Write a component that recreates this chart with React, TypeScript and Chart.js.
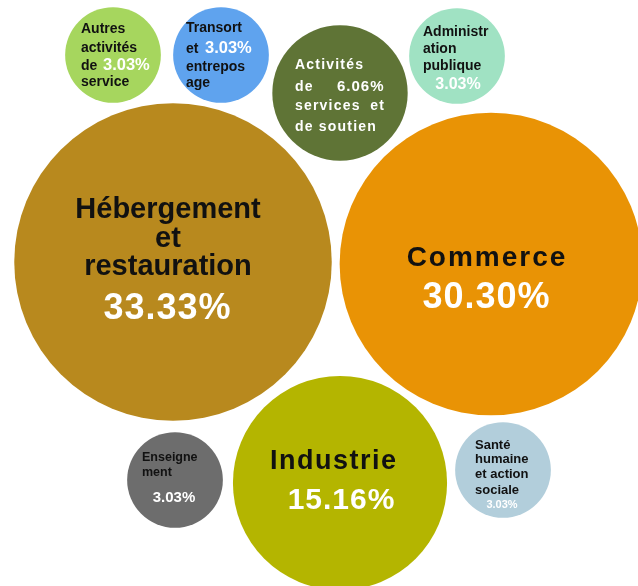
import React, { useEffect, useRef } from "react";
import { Chart, registerables } from "chart.js";

Chart.register(...registerables);

// Categories and values (share in %)
const categories = [
  "Autres activités de service",
  "Transort et entreposage",
  "Activités de services et de soutien",
  "Administration publique",
  "Hébergement et restauration",
  "Commerce",
  "Industrie",
  "Enseignement",
  "Santé humaine et action sociale",
];
const values = [3.03, 3.03, 6.06, 3.03, 33.33, 30.3, 15.16, 3.03, 3.03];

// Packed-bubble layout positions (chart units)
const bubbleX = [113, 221, 340, 457, 173, 491, 340, 175, 503];
const bubbleY = [55, 55, 93, 56, 262, 264, 483, 480, 470];

const colors = [
  "#a6d65e",
  "#5fa3ee",
  "#5f7436",
  "#a0e2c3",
  "#b8891e",
  "#e99305",
  "#b4b500",
  "#6d6d6d",
  "#b2cedb",
];

const W = 638;
const H = 586;
const K = 27.5; // radius scale (area proportional to value)

type Seg = {
  t: string;
  dx: number;
  dy: number;
  size: number;
  color: string;
  align?: CanvasTextAlign;
  ls?: number;
};

const B = "#111111";
const Wt = "#ffffff";
const pct = (i: number) => values[i].toFixed(2) + "%";

const labels: Seg[][] = [
  [
    { t: "Autres", dx: -32, dy: -26, size: 14, color: B },
    { t: "activités", dx: -32, dy: -7, size: 14, color: B },
    { t: "de", dx: -32, dy: 11, size: 14, color: B },
    { t: pct(0), dx: -10, dy: 10, size: 16.5, color: Wt },
    { t: "service", dx: -32, dy: 27, size: 14, color: B },
  ],
  [
    { t: "Transort", dx: -35, dy: -27, size: 14, color: B },
    { t: "et", dx: -35, dy: -6, size: 14, color: B },
    { t: pct(1), dx: -16, dy: -7, size: 16.5, color: Wt },
    { t: "entrepos", dx: -35, dy: 12, size: 14, color: B },
    { t: "age", dx: -35, dy: 28, size: 14, color: B },
  ],
  [
    { t: "Activités", dx: -45, dy: -28, size: 14, color: Wt, ls: 1.2 },
    { t: "de", dx: -45, dy: -6, size: 14, color: Wt, ls: 1.2 },
    { t: pct(2), dx: -3, dy: -6, size: 15, color: Wt, ls: 1 },
    { t: "services", dx: -45, dy: 13, size: 14, color: Wt, ls: 1.2 },
    { t: "et", dx: 45, dy: 13, size: 14, color: Wt, align: "right", ls: 1.2 },
    { t: "de soutien", dx: -45, dy: 34, size: 14, color: Wt, ls: 1.2 },
  ],
  [
    { t: "Administr", dx: -34, dy: -24, size: 14, color: B },
    { t: "ation", dx: -34, dy: -7, size: 14, color: B },
    { t: "publique", dx: -34, dy: 10, size: 14, color: B },
    { t: pct(3), dx: 1, dy: 29, size: 16, color: Wt, align: "center" },
  ],
  [
    { t: "Hébergement", dx: -5, dy: -52, size: 29, color: B, align: "center" },
    { t: "et", dx: -5, dy: -23, size: 29, color: B, align: "center" },
    { t: "restauration", dx: -5, dy: 5, size: 29, color: B, align: "center" },
    { t: pct(4), dx: -6, dy: 47, size: 36, color: Wt, align: "center", ls: 1 },
  ],
  [
    { t: "Commerce", dx: -5, dy: -6, size: 28, color: B, align: "center", ls: 2 },
    { t: pct(5), dx: -5, dy: 34, size: 36, color: Wt, align: "center", ls: 1 },
  ],
  [
    { t: "Industrie", dx: -7, dy: -21, size: 27, color: B, align: "center", ls: 1.5 },
    { t: pct(6), dx: 1, dy: 18, size: 30, color: Wt, align: "center", ls: 1 },
  ],
  [
    { t: "Enseigne", dx: -33, dy: -22, size: 12.5, color: B },
    { t: "ment", dx: -33, dy: -7, size: 12.5, color: B },
    { t: pct(7), dx: -1, dy: 18, size: 15, color: Wt, align: "center" },
  ],
  [
    { t: "Santé", dx: -28, dy: -25, size: 13, color: B },
    { t: "humaine", dx: -28, dy: -11, size: 13, color: B },
    { t: "et action", dx: -28, dy: 4, size: 13, color: B },
    { t: "sociale", dx: -28, dy: 20, size: 13, color: B },
    { t: pct(8), dx: -1, dy: 35, size: 11, color: Wt, align: "center" },
  ],
];

const labelPlugin = {
  id: "bubbleLabels",
  afterDatasetsDraw(chart: any) {
    const ctx = chart.ctx as CanvasRenderingContext2D;
    const meta = chart.getDatasetMeta(0);
    ctx.save();
    meta.data.forEach((el: any, i: number) => {
      const segs = labels[i] || [];
      segs.forEach((s) => {
        ctx.font = `bold ${s.size}px "Liberation Sans", Arial, sans-serif`;
        (ctx as any).letterSpacing = `${s.ls || 0}px`;
        ctx.fillStyle = s.color;
        ctx.textBaseline = "middle";
        ctx.textAlign = s.align || "left";
        let x = el.x + s.dx;
        if ((s.align === "center") && s.ls) x += s.ls / 2;
        ctx.fillText(s.t, x, el.y + s.dy);
      });
    });
    (ctx as any).letterSpacing = "0px";
    ctx.restore();
  },
};

const bgPlugin = {
  id: "whiteBg",
  beforeDraw(chart: any) {
    const ctx = chart.ctx;
    ctx.save();
    ctx.fillStyle = "#ffffff";
    ctx.fillRect(0, 0, chart.width, chart.height);
    ctx.restore();
  },
};

export default function App() {
  const ref = useRef<HTMLCanvasElement | null>(null);

  useEffect(() => {
    if (!ref.current) return;
    const chart = new Chart(ref.current, {
      type: "bubble",
      data: {
        labels: categories,
        datasets: [
          {
            label: "Secteurs",
            data: values.map((v, i) => ({
              x: bubbleX[i],
              y: bubbleY[i],
              r: K * Math.sqrt(v),
            })),
            backgroundColor: colors,
            borderWidth: 0,
            hoverBorderWidth: 0,
            clip: false as any,
          },
        ],
      },
      options: {
        responsive: false,
        animation: false,
        events: [],
        layout: { padding: 0, autoPadding: false },
        plugins: {
          legend: { display: false },
          tooltip: { enabled: false },
        },
        scales: {
          x: { type: "linear", min: 0, max: W, display: false },
          y: { type: "linear", min: 0, max: H, reverse: true, display: false },
        },
      },
      plugins: [bgPlugin, labelPlugin],
    });
    return () => chart.destroy();
  }, []);

  return (
    <div style={{ position: "absolute", left: 0, top: 0, width: W, height: H, background: "#fff" }}>
      <canvas ref={ref} width={W} height={H} style={{ display: "block" }} />
    </div>
  );
}
